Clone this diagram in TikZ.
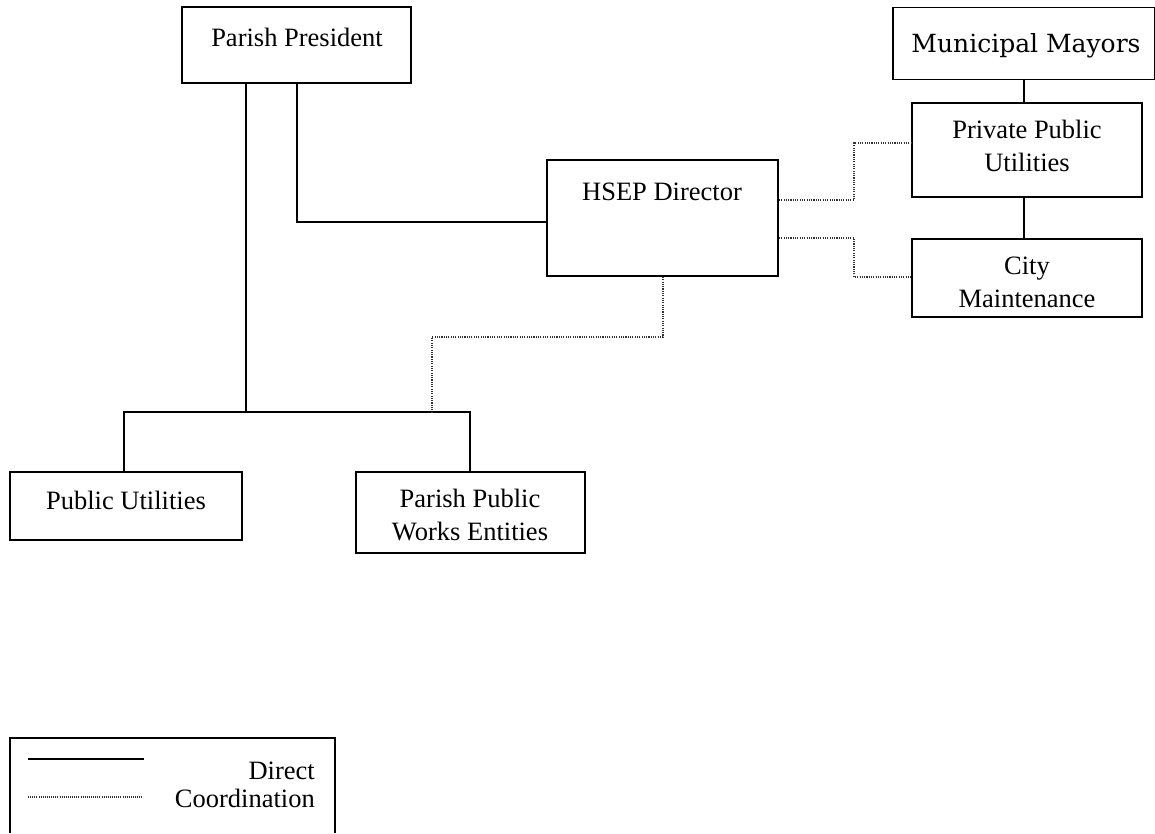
\documentclass[tikz,border=0pt]{standalone}
\usepackage{fontspec}
\setmainfont{Liberation Serif}
\newfontfamily\mayorfont{DejaVu Serif}
\begin{document}
\begin{tikzpicture}[x=1pt,y=-1pt,
  box/.style={draw=black,line width=1.8pt,inner sep=0pt,rectangle},
  lbl/.style={font=\fontsize{26.5}{33}\selectfont,align=center,inner sep=0pt},
  solidline/.style={draw=black,line width=1.8pt},
  dotline/.style={draw=black!80,line width=1.6pt,dash pattern=on 1.1pt off 1.2pt}]
\useasboundingbox (0,0) rectangle (1155,833);
% boxes
\node[box,minimum width=229pt,minimum height=76pt] (pp) at (296.5,45) {};
\node[box,minimum width=231pt,minimum height=116pt] (hsep) at (662.5,218) {};
\node[box,minimum width=262pt,minimum height=72pt] (mm) at (1024,43.5) {};
\node[box,minimum width=230pt,minimum height=94pt] (ppu) at (1027,150) {};
\node[box,minimum width=230pt,minimum height=78pt] (cm) at (1027,278) {};
\node[box,minimum width=232pt,minimum height=68pt] (pu) at (126,506) {};
\node[box,minimum width=229pt,minimum height=81pt] (ppw) at (470.5,512.5) {};
% texts
\node[lbl] (tpp) at (297,37) {Parish President};
\node[lbl] (thsep) at (662,192) {HSEP Director};
\node[lbl,font=\mayorfont\fontsize{25}{30}\selectfont] (tmm) at (1026,46) {Municipal Mayors};
\node[lbl] (tppu) at (1027,146) {Private Public\\Utilities};
\node[lbl] (tcm) at (1027,282) {City\\Maintenance};
\node[lbl] (tpu) at (126,500) {Public Utilities};
\node[lbl] (tppw) at (470,515) {Parish Public\\Works Entities};
% coordinates
\coordinate (barL) at (124,412);
\coordinate (barR) at (470,412);
\coordinate (barM) at (246,412);
\coordinate (barD) at (432,412);
% solid connectors
\draw[solidline] (pp.south -| barM) -- (barM);
\draw[solidline] (pu.north -| barL) -- (barL) -- (barR) -- (ppw.north -| barR);
\draw[solidline] (297,82) -- (297,222) -- (hsep.west |- 0,222);
\draw[solidline] (mm.south -| 1024,0) -- (ppu.north -| 1024,0);
\draw[solidline] (ppu.south -| 1024,0) -- (cm.north -| 1024,0);
% dotted connectors
\draw[dotline] (hsep.south -| 663,0) -- (663,337) -- (432,337) -- (barD);
\draw[dotline] (hsep.east |- 0,200) -- (854,200) -- (854,143) -- (ppu.west |- 0,143);
\draw[dotline] (hsep.east |- 0,238) -- (854,238) -- (854,277) -- (cm.west |- 0,277);
% legend
\draw[solidline] (10,833) -- (10,738) -- (335,738) -- (335,833);
\coordinate (l1a) at (28,759);
\coordinate (l1b) at (144,759);
\coordinate (l2a) at (28,797);
\coordinate (l2b) at (142,797);
\draw[solidline] (l1a) -- (l1b);
\draw[draw=black!80,line width=1.3pt,dash pattern=on 1pt off 1.1pt] (l2a) -- (l2b);
\node[lbl,anchor=base east] (tdir) at (315,779) {Direct};
\node[lbl,anchor=base east] (tcoord) at (315,807) {Coordination};
\end{tikzpicture}
\end{document}
